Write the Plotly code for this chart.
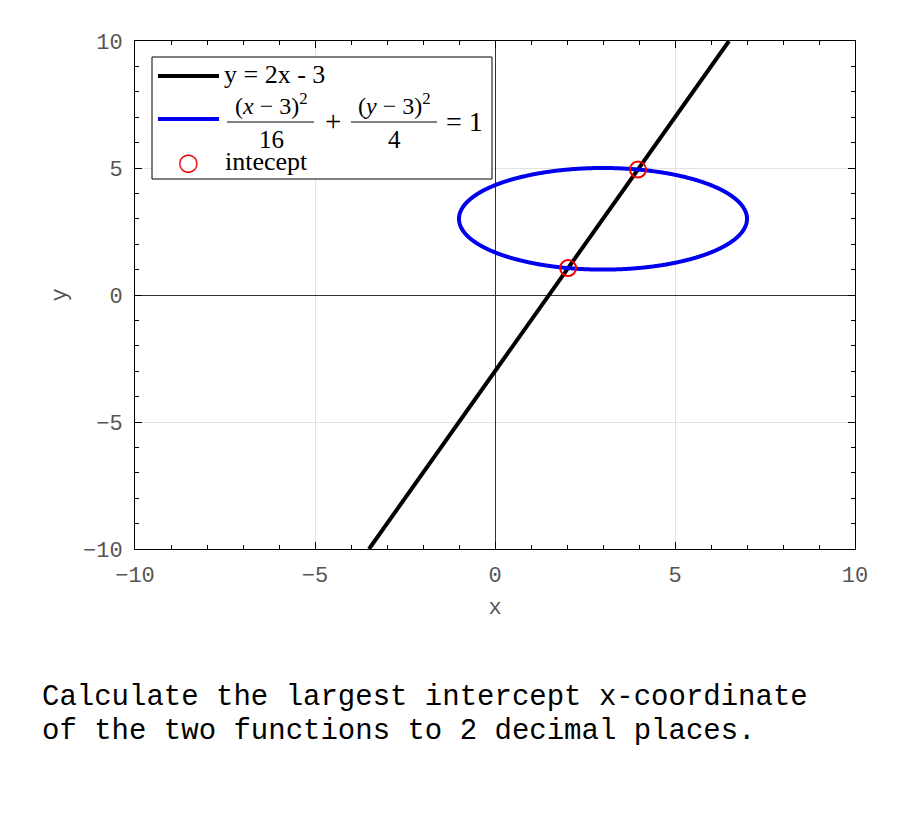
import numpy as np
import plotly.graph_objects as go

# ---- data ----
line_x = [-3.5, 6.5]
line_y = [-10.0, 10.0]
ellipse_center = [3.0, 3.0]
ellipse_axes = [4.0, 2.0]          # semi-axes (from (x-3)^2/16 + (y-3)^2/4 = 1)
intercept_x = [2.03, 3.97]
intercept_y = [1.06, 4.94]
tick_vals = [-10, -5, 0, 5, 10]
question_lines = ["Calculate the largest intercept x-coordinate",
                  "of the two functions to 2 decimal places."]

t = np.linspace(0, 2 * np.pi, 721)
ell_x = ellipse_center[0] + ellipse_axes[0] * np.cos(t)
ell_y = ellipse_center[1] + ellipse_axes[1] * np.sin(t)

OFF = 8  # page body margin
W, H = 900 - OFF, 825 - OFF
L, R, T, B = 135 - OFF, 855 - OFF, 41 - OFF, 549 - OFF


def px(x):
    return (x - OFF - L) / (R - L)


def py(y):
    return (B - (y - OFF)) / (B - T)


fig = go.Figure()
fig.add_trace(go.Scatter(x=line_x, y=line_y, mode="lines",
                         line=dict(color="black", width=4), showlegend=False))
fig.add_trace(go.Scatter(x=ell_x, y=ell_y, mode="lines",
                         line=dict(color="#0000ee", width=4, shape="spline"), showlegend=False))
fig.add_trace(go.Scatter(x=intercept_x, y=intercept_y, mode="markers",
                         marker=dict(symbol="circle-open", size=16,
                                     color="#ee0000", line=dict(width=2)),
                         showlegend=False))

mono = "Liberation Mono"
serif = "Liberation Serif"
axis_common = dict(range=[-10, 10], tickvals=tick_vals, ticks="inside", ticklen=7,
                   tickcolor="black", showline=True, linecolor="black", linewidth=1,
                   mirror="ticks", showgrid=True, gridcolor="#e3e3e3", gridwidth=1,
                   zeroline=True, zerolinecolor="#333333", zerolinewidth=1,
                   tickfont=dict(family=mono, size=22, color="#555555"),
                   minor=dict(dtick=1, ticks="inside", ticklen=4, tickcolor="black",
                              showgrid=False),
                   fixedrange=True)

fig.update_xaxes(**axis_common, ticklabelstandoff=6,
                 title=dict(text="x", font=dict(family=mono, size=22, color="#555555"), standoff=10))
fig.update_yaxes(**axis_common, ticklabelstandoff=7,
                 title=dict(text="y", font=dict(family=mono, size=22, color="#555555"), standoff=10))

shapes = []
ann = []
# legend box
shapes.append(dict(type="rect", xref="paper", yref="paper", x0=px(152), x1=px(492),
                   y0=py(179), y1=py(57), fillcolor="white",
                   line=dict(color="black", width=1), layer="above"))
# legend line samples
shapes.append(dict(type="line", xref="paper", yref="paper", x0=px(158), x1=px(219),
                   y0=py(76), y1=py(76), line=dict(color="black", width=4), layer="above"))
shapes.append(dict(type="line", xref="paper", yref="paper", x0=px(158), x1=px(219),
                   y0=py(119), y1=py(119), line=dict(color="#0000ee", width=4), layer="above"))
# fraction bars
shapes.append(dict(type="line", xref="paper", yref="paper", x0=px(227), x1=px(314),
                   y0=py(122), y1=py(122), line=dict(color="black", width=1), layer="above"))
shapes.append(dict(type="line", xref="paper", yref="paper", x0=px(351), x1=px(437),
                   y0=py(122), y1=py(122), line=dict(color="black", width=1), layer="above"))


def text(x, y, s, anchor="left", size=26):
    ann.append(dict(xref="paper", yref="paper", x=px(x), y=py(y), text=s,
                    showarrow=False, xanchor=anchor, yanchor="middle",
                    font=dict(family=serif, size=size, color="black")))


text(222, 74, "y = 2x - 3", "left", 26)
text(271, 104, "(<i>x</i> − 3)<sup>2</sup>", "center", 24)
text(271, 139, "16", "center", 25)
text(333, 121, "+", "center", 29)
text(394, 104, "(<i>y</i> − 3)<sup>2</sup>", "center", 24)
text(394, 139, "4", "center", 25)
text(444, 121, "= 1", "left", 28)
text(223, 161, "intecept", "left", 26)

# legend marker sample
ann.append(dict(xref="paper", yref="paper", x=px(188), y=py(162), text="○",
                showarrow=False, xanchor="center", yanchor="middle",
                font=dict(family="DejaVu Sans", size=24, color="#ee0000")))

# question text
for i, s in enumerate(question_lines):
    ann.append(dict(xref="paper", yref="paper", x=px(40), y=py(697 + 34 * i), text=s,
                    showarrow=False, xanchor="left", yanchor="middle",
                    font=dict(family=mono, size=29, color="black")))

fig.update_layout(width=W, height=H, margin=dict(l=L, r=W - R, t=T, b=H - B),
                  paper_bgcolor="white", plot_bgcolor="white",
                  shapes=shapes, annotations=ann, showlegend=False)

fig.write_html("out.html")
